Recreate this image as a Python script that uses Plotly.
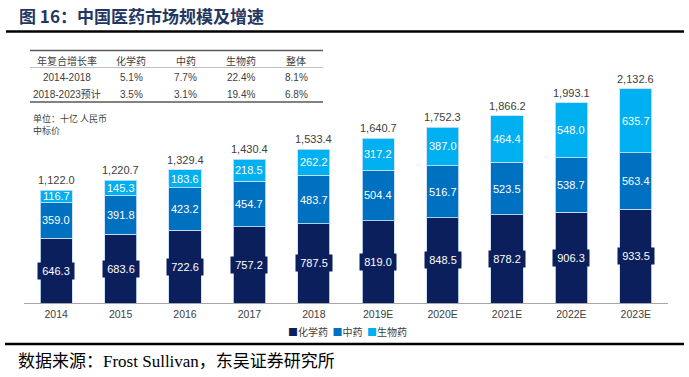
import plotly.graph_objects as go

# ---------------- data ----------------
years = ['2014', '2015', '2016', '2017', '2018', '2019E', '2020E', '2021E', '2022E', '2023E']
chem = [646.3, 683.6, 722.6, 757.2, 787.5, 819.0, 848.5, 878.2, 906.3, 933.5]
tcm = [359.0, 391.8, 423.2, 454.7, 483.7, 504.4, 516.7, 523.5, 538.7, 563.4]
bio = [116.7, 145.3, 183.6, 218.5, 262.2, 317.2, 387.0, 464.4, 548.0, 635.7]
total = [1122.0, 1220.7, 1329.4, 1430.4, 1533.4, 1640.7, 1752.3, 1866.2, 1993.1, 2132.6]
series_names = ['化学药', '中药', '生物药']

table_header = ['年复合增长率', '化学药', '中药', '生物药', '整体']
table_rows = [
    ['2014-2018', '5.1%', '7.7%', '22.4%', '8.1%'],
    ['2018-2023预计', '3.5%', '3.1%', '19.4%', '6.8%'],
]

title_text = '图 16：中国医药市场规模及增速'
unit_lines = ['单位：十亿 人民币', '中标价']
source_text = '数据来源：Frost Sullivan，东吴证券研究所'

# ---------------- style / geometry (screen pixels) ----------------
SW, SH = 689, 377                   # window / figure size
PL, PR, PT, PB = 24, 668, 60, 303   # plot area in pixels
ML, MT = PL, PT
MR, MB = SW - PR, SH - PB
PW, PH = PR - PL, PB - PT

C_CHEM, C_TCM, C_BIO = '#0B1F5C', '#0070C0', '#00B0F0'
TXT = '#404040'
SANS = 'Liberation Sans, Arial, Noto Sans CJK SC, sans-serif'
CJK = 'Noto Sans CJK SC, Liberation Sans, sans-serif'
SERIF = 'Liberation Serif, Times New Roman, Noto Sans CJK SC, serif'


def px(x):
    return (x - PL) / PW


def py(y):
    return (PB - y) / PH


def ptext(x, y, text, font, xanchor='center'):
    return dict(x=px(x), y=py(y), xref='paper', yref='paper', text=text, showarrow=False,
                xanchor=xanchor, yanchor='middle', font=font)


fig = go.Figure()
for name, vals, col in zip(series_names, [chem, tcm, bio], [C_CHEM, C_TCM, C_BIO]):
    fig.add_trace(go.Bar(
        x=years, y=vals, name=name,
        marker=dict(color=col, line=dict(color='rgba(200,225,250,0.85)', width=1)),
        hoverinfo='x+y+name', showlegend=False,
    ))

ann = []
for i in range(len(years)):
    ann.append(dict(x=i, y=chem[i] / 2, xref='x', yref='y', text=f'{chem[i]:.1f}',
                    showarrow=False, xanchor='center', yanchor='middle',
                    font=dict(family=SANS, size=11, color='white'),
                    bgcolor=C_CHEM, width=34, height=14, borderpad=1))
    ann.append(dict(x=i, y=chem[i] + tcm[i] / 2, xref='x', yref='y', text=f'{tcm[i]:.1f}',
                    showarrow=False, xanchor='center', yanchor='middle',
                    font=dict(family=SANS, size=11, color='white')))
    ann.append(dict(x=i, y=chem[i] + tcm[i] + bio[i] / 2, xref='x', yref='y', text=f'{bio[i]:.1f}',
                    showarrow=False, xanchor='center', yanchor='middle',
                    font=dict(family=SANS, size=11, color='white')))
    ann.append(dict(x=i, y=total[i], xref='x', yref='y', text=f'{total[i]:,.1f}',
                    showarrow=False, xanchor='center', yanchor='bottom', yshift=2,
                    font=dict(family=SANS, size=11, color=TXT)))

ann.append(ptext(17, 15, '<b>' + title_text + '</b>', dict(family=CJK, size=17, color='#1F3864'),
                 xanchor='left'))
ann.append(ptext(16, 361, source_text, dict(family=SERIF, size=17, color='black'), xanchor='left'))
for j, t in enumerate(unit_lines):
    ann.append(ptext(31, 118 + 12 * j, t, dict(family=CJK, size=9, color=TXT), xanchor='left'))

col_x = [67, 131, 186, 241, 296]
row_y = [60.5, 77.5, 94.3]
for c, t in zip(col_x, table_header):
    ann.append(ptext(c, row_y[0], t, dict(family=CJK, size=10, color=TXT)))
for r, row in enumerate(table_rows):
    for c, t in zip(col_x, row):
        ann.append(ptext(c, row_y[r + 1], t, dict(family=SANS, size=10, color=TXT)))

leg = (f"<span style='color:{C_CHEM}'>■</span>{series_names[0]}  "
       f"<span style='color:{C_TCM}'>■</span>{series_names[1]}  "
       f"<span style='color:{C_BIO}'>■</span>{series_names[2]}")
ann.append(ptext(347, 331, leg, dict(family=CJK, size=10, color=TXT)))


def hline(x0, x1, y, color, width):
    return dict(type='line', xref='paper', yref='paper', x0=px(x0), x1=px(x1), y0=py(y), y1=py(y),
                line=dict(color=color, width=width))


shapes = [
    hline(6, 684, 31.5, 'black', 2.5),
    hline(5, 684, 344, 'black', 2.5),
    hline(30, 323, 50.5, '#595959', 1.5),
    hline(30, 323, 67.5, '#BFBFBF', 1),
    hline(30, 323, 102, '#595959', 1.5),
]

fig.update_layout(
    width=SW, height=SH, barmode='stack', bargap=0.5,
    margin=dict(l=ML, r=MR, t=MT, b=MB, autoexpand=False),
    paper_bgcolor='white', plot_bgcolor='white',
    annotations=ann, shapes=shapes, showlegend=False,
    xaxis=dict(type='category', range=[-0.5, 9.5], showline=True, linecolor='#A6A6A6', linewidth=1,
               showgrid=False, ticks='', tickfont=dict(family=SANS, size=10.5, color=TXT),
               ticklabelstandoff=1, fixedrange=True),
    yaxis=dict(range=[0, 2420], visible=False, showgrid=False, zeroline=False, fixedrange=True),
)

fig.write_html('out.html', config={'displayModeBar': False},
               post_script="document.body.style.margin='0';")
